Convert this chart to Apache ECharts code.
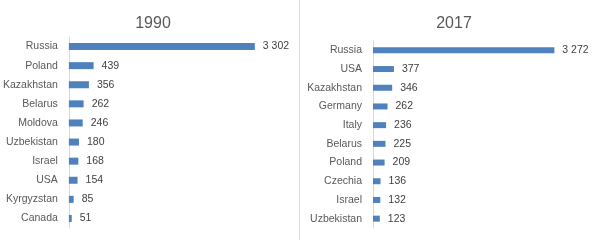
<!DOCTYPE html>
<html>
<head>
<meta charset="utf-8">
<script src="https://cdn.jsdelivr.net/npm/echarts@6/dist/echarts.min.js"></script>
<style>html,body{margin:0;padding:0;background:#fff}#c{width:596px;height:240px}</style>
</head>
<body>
<div id="c"></div>
<script>
var title1990 = '1990';
var title2017 = '2017';
var countries1990 = ['Russia','Poland','Kazakhstan','Belarus','Moldova','Uzbekistan','Israel','USA','Kyrgyzstan','Canada'];
var values1990 = [3302,439,356,262,246,180,168,154,85,51];
var countries2017 = ['Russia','USA','Kazakhstan','Germany','Italy','Belarus','Poland','Czechia','Israel','Uzbekistan'];
var values2017 = [3272,377,346,262,236,225,209,136,132,123];

var FONT = '"Liberation Sans", Arial, sans-serif';
var BAR = '#4F81BD';
function fmt(p){ return String(p.value).replace(/\B(?=(\d{3})+(?!\d))/g,' '); }

var chart = echarts.init(document.getElementById('c'), null, {renderer:'canvas'});
chart.setOption({
  animation:false,
  backgroundColor:'#fff',
  title:[
    {text:title1990,left:148,top:11,textAlign:'center',textStyle:{fontFamily:FONT,fontSize:16,fontWeight:'normal',color:'#595959'}},
    {text:title2017,left:449,top:11,textAlign:'center',textStyle:{fontFamily:FONT,fontSize:16,fontWeight:'normal',color:'#595959'}}
  ],
  graphic:[{type:'line',shape:{x1:299.5,y1:0,x2:299.5,y2:240},style:{stroke:'#d9d9d9',lineWidth:1}}],
  grid:[
    {left:67,top:37,width:199,height:191},
    {left:373,top:41,width:194,height:187}
  ],
  xAxis:[
    {gridIndex:0,type:'value',min:0,max:3500,show:false},
    {gridIndex:1,type:'value',min:0,max:3500,show:false}
  ],
  yAxis:[
    {gridIndex:0,type:'category',inverse:true,data:countries1990,
     axisLine:{lineStyle:{color:'#d9d9d9'}},axisTick:{show:false},
     axisLabel:{margin:11,fontFamily:FONT,fontSize:10.5,color:'#595959'}},
    {gridIndex:1,type:'category',inverse:true,data:countries2017,
     axisLine:{lineStyle:{color:'#d9d9d9'}},axisTick:{show:false},
     axisLabel:{margin:11,fontFamily:FONT,fontSize:10.5,color:'#595959'}}
  ],
  series:[
    {type:'bar',xAxisIndex:0,yAxisIndex:0,data:values1990,barWidth:7,itemStyle:{color:BAR},
     label:{show:true,position:'right',distance:8,formatter:fmt,fontFamily:FONT,fontSize:10.5,color:'#404040'}},
    {type:'bar',xAxisIndex:1,yAxisIndex:1,data:values2017,barWidth:6,itemStyle:{color:BAR},
     label:{show:true,position:'right',distance:8,formatter:fmt,fontFamily:FONT,fontSize:10.5,color:'#404040'}}
  ]
});
</script>
</body>
</html>
